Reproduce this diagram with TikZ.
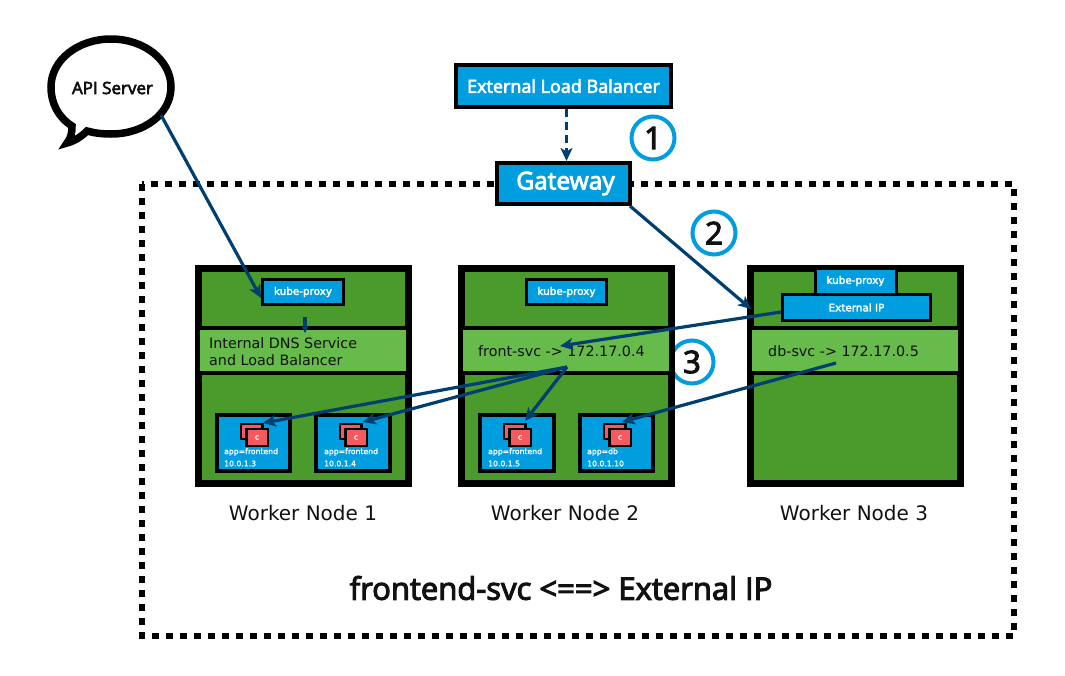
\documentclass[tikz,border=0pt]{standalone}
\usepackage{fontspec}
\setmainfont{Open Sans}
\newfontfamily\semi[FakeBold=3.5]{Open Sans}
\newfontfamily\dejavu{DejaVu Sans}
\newfontfamily\dejasemi[FakeBold=2.5]{DejaVu Sans}
\newfontfamily\dejamed[FakeBold=1.5]{DejaVu Sans}
\usetikzlibrary{arrows.meta}
\definecolor{kblue}{HTML}{009DDF}
\definecolor{kgreen}{HTML}{4A9A2C}
\definecolor{klight}{HTML}{66BB4A}
\definecolor{kred}{HTML}{F65A5F}
\definecolor{karrow}{HTML}{003F6F}
\definecolor{kink}{HTML}{111111}
\newcommand{\fs}[1]{\fontsize{#1}{#1}\selectfont}
\tikzset{
  x=1pt,y=-1pt,
  conn/.style={draw=karrow,line width=3.2pt,-{Stealth[length=13pt,width=12pt,inset=3.5pt]}},
  bluebox/.style={draw=black,fill=kblue,text=white,font=\dejasemi\fs{10.4},inner sep=0pt,align=center},
  worker/.style={draw=black,fill=kgreen,line width=7pt,inner sep=0pt},
  band/.style={fill=klight,inner sep=0pt},
  bandtext/.style={inner sep=0pt,anchor=west,align=left,text=kink,font=\dejavu\fs{14.3}},
  podbox/.style={draw=black,fill=kblue,line width=4pt,inner sep=0pt},
  cont/.style={draw=black,fill=kred,line width=2.5pt,inner sep=0pt},
  podtext/.style={text=white,font=\dejamed\fs{7.7},inner sep=0pt,anchor=west},
  step circle/.style={circle,draw=kblue,line width=4pt,fill=white,minimum size=43pt,inner sep=0pt,text=kink,font=\semi\fs{31}},
  caption/.style={text=kink,font=\dejavu\fs{20},inner sep=0pt}
}
\newcommand{\pod}[6]{%
  \node[podbox,minimum width=#3pt,minimum height=56pt] (#1) at (#2+#3/2,443) {};
  \node[cont,minimum width=21.5pt,minimum height=15pt] (#1b) at (#2+34.5,431.5) {};
  \node[cont,minimum width=21.5pt,minimum height=17pt,text=white,font=\dejasemi\fs{7.5}] (#1f) at (#2+40,437.5) {c};
  \node[podtext] (#1a) at (#2+#6,452) {#4};
  \node[podtext] (#1i) at (#2+#6,463.5) {#5};
}
\newcommand{\workerbox}[4]{%
  \node[worker,minimum width=210pt,minimum height=215pt] (#1) at (#2+108.5,376) {};
  \draw[black,line width=4pt] (#2+4,328) -- (#2+213,328);
  \draw[black,line width=4pt] (#2+4,373) -- (#2+213,373);
  \node[band,minimum width=206pt,minimum height=41pt] (#1band) at (#2+108,350.5) {};
  \node[bandtext] (#1text) at (#3,351.5) {#4};
}
\begin{document}
\begin{tikzpicture}
\useasboundingbox (0,0) rectangle (1065,675);
\fill[white] (0,0) rectangle (1065,675);

% outer dashed frame
\draw[black,line width=6.8pt,dash pattern=on 7pt off 7pt] (142,184) rectangle (1014,636);

% step 3 sits behind the worker node
\node[step circle] (s3) at (692,362) {};

% worker nodes
\workerbox{w1}{195}{209}{Internal DNS Service\\[3pt]and Load Balancer}
\workerbox{w2}{458}{478}{front-svc -> 172.17.0.4}
\workerbox{w3}{747}{768}{db-svc -> 172.17.0.5}

\node[text=kink,font=\semi\fs{31},inner sep=0pt] (s3t) at (692,362) {3};

% kube-proxies
\node[bluebox,line width=3pt,minimum width=81pt,minimum height=25pt] (k1) at (303,292) {kube-proxy};
\node[bluebox,line width=3pt,minimum width=80pt,minimum height=25pt] (k2) at (566.5,292) {kube-proxy};
\node[bluebox,line width=3pt,minimum width=81pt,minimum height=26pt] (k3) at (855.5,281) {kube-proxy};
\node[bluebox,line width=3.5pt,minimum width=148pt,minimum height=26pt] (ext) at (856.5,307.5) {External IP};

% pods
\pod{p1}{217}{73}{app=frontend}{10.0.1.3}{7}
\pod{p2}{316}{74}{app=frontend}{10.0.1.4}{8}
\pod{p3}{480}{74}{app=frontend}{10.0.1.5}{8}
\pod{p4}{580}{73}{app=db}{10.0.1.10}{7}

% captions
\node[caption] (c1) at (303,513) {Worker Node 1};
\node[caption] (c2) at (565,513) {Worker Node 2};
\node[caption] (c3) at (854,513) {Worker Node 3};
\node[text=kink,font=\semi\fs{31},inner sep=0pt] (title) at (561,588) {frontend-svc <==> External IP};

% top boxes
\node[bluebox,line width=4pt,minimum width=215pt,minimum height=42pt,font=\semi\fs{18}] (elb) at (563.5,86) {External Load Balancer};
\node[bluebox,line width=4pt,minimum width=133pt,minimum height=41pt,font=\semi\fs{24.5}] (gw) at (563.5,183.5) {\hspace*{4pt}Gateway};

% step circles
\node[step circle] (s1) at (653,138) {1};
\node[step circle] (s2) at (714,233) {2};

% API server bubble
\path[draw=black,fill=white,line width=7.5pt,line join=miter,miter limit=10]
  (72,126) .. controls (58,117) and (51,103) .. (51,87)
  .. controls (51,60) and (78,39) .. (111,39)
  .. controls (144,39) and (171,60) .. (171,87)
  .. controls (171,114) and (144,134) .. (111,134)
  .. controls (102,134) and (94,133) .. (87,131)
  .. controls (82,136) and (75,141) .. (67,143)
  .. controls (71,138) and (72,133) .. (72,126) -- cycle;
\node[text=kink,font=\semi\fs{17},inner sep=0pt] (api) at (112.5,88) {API Server};

% connector end points
\coordinate (apiout) at (161,115);
\coordinate (k1in) at (261,298);
\coordinate (k1out) at (305,317);
\coordinate (b1in) at (305,333);
\coordinate (gwout) at (630,206);
\coordinate (extin) at (751,309);
\coordinate (extout) at (781,312);
\coordinate (front) at (560,346);
\coordinate (frontout) at (567,367);
\coordinate (p1in) at (263,423);
\coordinate (p2in) at (363,422);
\coordinate (p3in) at (525,421);
\coordinate (dbout) at (836,363);
\coordinate (p4in) at (622,422);

% connectors
\draw[conn,dash pattern=on 8pt off 5pt] ([xshift=3pt]elb.south) -- ([xshift=3pt]gw.north);
\draw[conn] (apiout) -- (k1in);
\draw[conn,-{Stealth[length=7pt,width=7pt,inset=2pt]}] (k1out) -- (b1in);
\draw[conn] (gwout) -- (extin);
\draw[conn] (extout) -- (front);
\draw[conn] (frontout) -- (p1in);
\draw[conn] (frontout) -- (p2in);
\draw[conn] (frontout) -- (p3in);
\draw[conn] (dbout) -- (p4in);
\end{tikzpicture}
\end{document}
